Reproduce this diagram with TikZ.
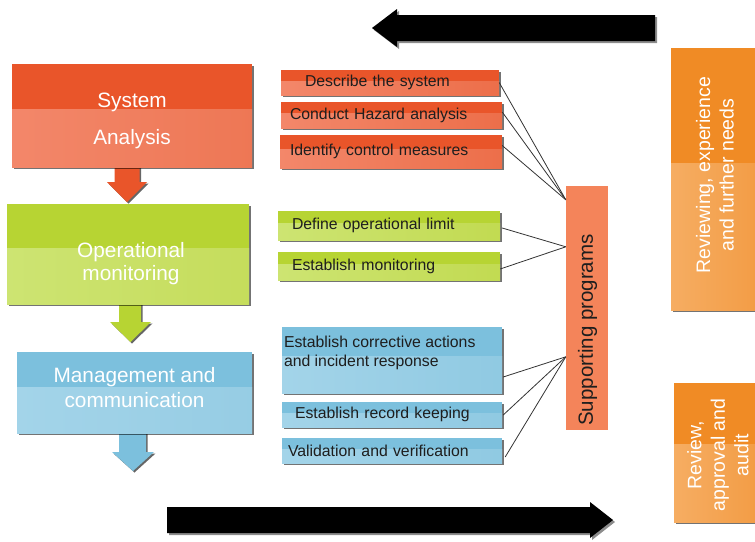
\documentclass[tikz,border=0pt]{standalone}
\usepackage{fontspec}
\setmainfont{Liberation Sans}
\usetikzlibrary{shadows,calc}

\definecolor{redA}{HTML}{E9552A}
\definecolor{redL}{HTML}{F3876A}
\definecolor{grnA}{HTML}{B7D433}
\definecolor{grnL}{HTML}{CDE472}
\definecolor{bluA}{HTML}{7CC0DD}
\definecolor{bluL}{HTML}{A3D4E9}
\definecolor{orgA}{HTML}{F08B25}
\definecolor{orgL}{HTML}{F6AD62}
\definecolor{supp}{HTML}{F4845A}
\definecolor{ink}{HTML}{1E1E1E}

\tikzset{
  boxshadow/.style={drop shadow={shadow xshift=2pt, shadow yshift=-2pt, fill=black, opacity=0.55}},
  gloss/.style n args={3}{fill=#1, path picture={
      \shade[left color=#2, right color=#3]
        ($(path picture bounding box.north west)!0.44!(path picture bounding box.south west)$)
        rectangle (path picture bounding box.south east);}},
  stagebox/.style={boxshadow, inner sep=0pt},
  stagetext/.style={text=white, align=center, inner sep=0pt, anchor=north,
    font=\fontsize{20.8}{23}\selectfont},
  tasktext/.style={inner sep=0pt, align=left, text=ink,
    font=\fontsize{15.8}{19}\selectfont},
  taskbox/.style={boxshadow, tasktext},
  sidetext/.style={text=white, align=center, inner sep=0pt, rotate=90,
    font=\fontsize{19.5}{23.5}\selectfont},
  link/.style={draw=black!80, line width=0.8pt},
  blockarrow/.style={fill=black, drop shadow={shadow xshift=2pt, shadow yshift=-2pt, fill=black!45, opacity=1}},
  downarrow/.style={fill=#1, drop shadow={shadow xshift=1.5pt, shadow yshift=-1.5pt, fill=black, opacity=0.6}},
}

\begin{document}
\begin{tikzpicture}[x=1pt,y=-1pt]
\useasboundingbox (0,0) rectangle (755,541);
\clip (0,0) rectangle (755,541);

% flow arrows between the stages
\fill[downarrow=redA] (114.5,166) -- (114.5,182) -- (107,182) -- (127,202) -- (147,182) -- (139.5,182) -- (139.5,166) -- cycle;
\fill[downarrow=grnA] (119,303) -- (119,322) -- (110,322) -- (130.5,342) -- (151,322) -- (141,322) -- (141,303) -- cycle;
\fill[downarrow=bluA] (119,432) -- (119,452) -- (112,452) -- (133,471) -- (154,452) -- (146,452) -- (146,432) -- cycle;

% the three stages
\node[stagebox, gloss={redA}{redL}{redA!80!white}, minimum width=240pt, minimum height=103pt] (sa) at (132,115.5) {};
\node[stagebox, gloss={grnA}{grnL}{grnA!80!white}, minimum width=242pt, minimum height=100pt] (om) at (128,254) {};
\node[stagebox, gloss={bluA}{bluL}{bluA!80!white}, minimum width=235pt, minimum height=81pt] (mc) at (134.5,392.5) {};
\node[stagetext] (sat) at ([shift={(0,29)}]sa.north) {System\\[14pt]Analysis};
\node[stagetext] (omt) at ([shift={(3,38)}]om.north) {Operational\\monitoring};
\node[stagetext] (mct) at ([shift={(0,15)}]mc.north) {Management and\\[2pt]communication};

% tasks of each stage
\node[taskbox, gloss={redA}{redL}{redA!85!white}, minimum width=218pt, minimum height=25pt, text width=218pt] (d1) at (390,82.5) {\hspace*{24pt}Describe the system};
\node[taskbox, gloss={redA}{redL}{redA!85!white}, minimum width=221pt, minimum height=26pt, text width=221pt] (d2) at (391.5,115) {\hspace*{9pt}Conduct Hazard analysis};
\node[taskbox, gloss={redA}{redL}{redA!85!white}, minimum width=222pt, minimum height=33pt, text width=222pt] (d3) at (391,151.5) {\hspace*{10pt}Identify control measures};

\node[taskbox, gloss={grnA}{grnL}{grnA!85!white}, minimum width=222pt, minimum height=29pt, text width=222pt] (o1) at (389,225.5) {\hspace*{14pt}Define operational limit};
\node[taskbox, gloss={grnA}{grnL}{grnA!85!white}, minimum width=222pt, minimum height=28pt, text width=222pt] (o2) at (389,266) {\hspace*{14pt}Establish monitoring};

\node[taskbox, gloss={bluA}{bluL}{bluA!85!white}, minimum width=220pt, minimum height=66pt] (c1) at (392,360) {};
\node[tasktext, anchor=north west] (c1t) at ([shift={(2,9.5)}]c1.north west) {Establish corrective actions\\and incident response};
\node[taskbox, gloss={bluA}{bluL}{bluA!85!white}, minimum width=220pt, minimum height=25pt, text width=220pt] (c2) at (392,414.5) {\hspace*{13pt}Establish record keeping};
\node[taskbox, gloss={bluA}{bluL}{bluA!85!white}, minimum width=220pt, minimum height=25pt, text width=220pt] (c3) at (392,450.5) {\hspace*{6pt}Validation and verification};

% supporting programs
\node[fill=supp, inner sep=0pt, minimum width=42pt, minimum height=244pt] (sp) at (587,308) {};
\node[inner sep=0pt, rotate=90, text=ink, font=\fontsize{20.5}{24}\selectfont] (spt) at (587.5,330) {Supporting programs};
\coordinate (j1) at ([shift={(0,14)}]sp.north west);
\coordinate (j2) at ([shift={(0,61)}]sp.north west);
\coordinate (j3) at ([shift={(0,171)}]sp.north west);

\draw[link] (d1.east) -- (j1);
\draw[link] ([shift={(0,-3)}]d2.east) -- (j1);
\draw[link] ([shift={(0,-6)}]d3.east) -- (j1);
\draw[link] ([shift={(2,2.5)}]o1.east) -- (j2);
\draw[link] ([shift={(0,3)}]o2.east) -- (j2);
\draw[link] ([shift={(1,17)}]c1.east) -- (j3);
\draw[link] ([shift={(1,0.5)}]c2.east) -- (j3);
\draw[link] ([shift={(3,6.5)}]c3.east) -- (j3);

% review boxes on the right
\node[stagebox, gloss={orgA}{orgL}{orgA!85!white}, minimum width=87pt, minimum height=262pt] (r1) at (714.5,179) {};
\node[stagebox, gloss={orgA}{orgL}{orgA!85!white}, minimum width=84pt, minimum height=139pt] (r2) at (716,452.5) {};
\node[sidetext] (r1t) at (715,175) {Reviewing, experience\\and further needs};
\node[sidetext] (r2t) at (718,455) {Review,\\approval and\\audit};

% cycle arrows
\fill[blockarrow] (655,15) -- (397,15) -- (397,9) -- (372,28) -- (397,47) -- (397,41) -- (655,41) -- cycle;
\fill[blockarrow] (167,507) -- (590,507) -- (590,502) -- (613,520) -- (590,538) -- (590,533) -- (167,533) -- cycle;
\end{tikzpicture}
\end{document}
